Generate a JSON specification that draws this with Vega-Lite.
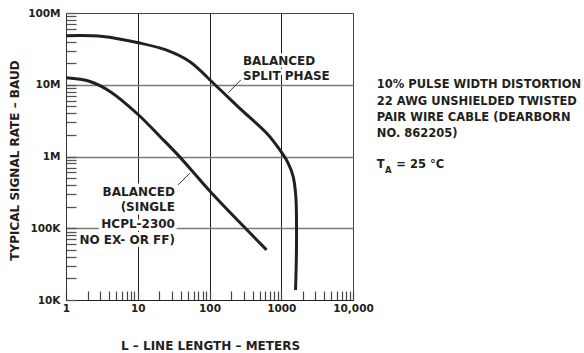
{
  "$schema": "https://vega.github.io/schema/vega-lite/v6.json",
  "width": 287,
  "height": 287,
  "autosize": {"type": "none"},
  "padding": {"left": 66, "top": 13, "right": 231, "bottom": 53},
  "background": "white",
  "config": {
    "view": {"stroke": "#444", "strokeWidth": 1},
    "font": "DejaVu Sans"
  },
  "datasets": {
    "curves": [
      {"s": "split", "i": 1, "x": 1, "y": 48200000},
      {"s": "split", "i": 2, "x": 3.27, "y": 47200000},
      {"s": "split", "i": 3, "x": 10.2, "y": 38500000},
      {"s": "split", "i": 4, "x": 25.3, "y": 30300000},
      {"s": "split", "i": 5, "x": 53.3, "y": 20900000},
      {"s": "split", "i": 6, "x": 119, "y": 10000000},
      {"s": "split", "i": 7, "x": 294, "y": 4250000},
      {"s": "split", "i": 8, "x": 624, "y": 2120000},
      {"s": "split", "i": 9, "x": 1062, "y": 1060000},
      {"s": "split", "i": 10, "x": 1247, "y": 809000},
      {"s": "split", "i": 11, "x": 1466, "y": 526000},
      {"s": "split", "i": 12, "x": 1597, "y": 277000},
      {"s": "split", "i": 13, "x": 1633, "y": 98000},
      {"s": "split", "i": 14, "x": 1622, "y": 36200},
      {"s": "split", "i": 15, "x": 1581, "y": 13800},
      {"s": "single", "i": 1, "x": 1, "y": 12500000},
      {"s": "single", "i": 2, "x": 2.16, "y": 11100000},
      {"s": "single", "i": 3, "x": 4.1, "y": 8070000},
      {"s": "single", "i": 4, "x": 10.2, "y": 3820000},
      {"s": "single", "i": 5, "x": 20.4, "y": 1900000},
      {"s": "single", "i": 6, "x": 38.7, "y": 980000},
      {"s": "single", "i": 7, "x": 107, "y": 309000},
      {"s": "single", "i": 8, "x": 624, "y": 50000}
    ],
    "leaders": [
      {"x": 182, "y": 7730000, "x2": 274, "y2": 11700000},
      {"x": 36.6, "y": 403000, "x2": 53.3, "y2": 586000}
    ],
    "splitlab": [
      {"x": 292, "y": 21500000, "t": "BALANCED"},
      {"x": 292, "y": 13100000, "t": "SPLIT PHASE"}
    ],
    "singlelab": [
      {"x": 33, "y": 325000, "t": "BALANCED"},
      {"x": 33, "y": 197000, "t": "(SINGLE"},
      {"x": 33, "y": 115000, "t": "HCPL-2300"},
      {"x": 33, "y": 68900, "t": "NO EX- OR FF)"}
    ],
    "note": [
      {"x": 21450, "y": 9900000, "t": "10% PULSE WIDTH DISTORTION"},
      {"x": 21450, "y": 5800000, "t": "22 AWG UNSHIELDED TWISTED"},
      {"x": 21450, "y": 3470000, "t": "PAIR WIRE CABLE (DEARBORN"},
      {"x": 21450, "y": 2070000, "t": "NO. 862205)"},
      {"x": 21450, "y": 766000, "t": "T"},
      {"x": 40100, "y": 766000, "t": "= 25 °C"}
    ],
    "sub": [
      {"x": 27900, "y": 653000, "t": "A"}
    ]
  },
  "encoding": {
    "x": {
      "field": "x",
      "type": "quantitative",
      "scale": {"type": "log", "domain": [1, 10000]},
      "axis": {
        "values": [1, 2, 3, 4, 5, 6, 7, 8, 9, 10, 20, 30, 40, 50, 60, 70, 80, 90, 100, 200, 300, 400, 500, 600, 700, 800, 900, 1000, 2000, 3000, 4000, 5000, 6000, 7000, 8000, 9000, 10000],
        "labelExpr": "datum.value==1?'1':datum.value==10?'10':datum.value==100?'100':datum.value==1000?'1000':datum.value==10000?'10,000':''",
        "labelOverlap": false,
        "labelFlush": false,
        "tickSize": -9,
        "tickColor": "#444",
        "tickWidth": 1.2,
        "labelPadding": 17,
        "labelFont": "DejaVu Sans",
        "labelFontWeight": "bold",
        "labelFontSize": 10.5,
        "labelColor": "#231f20",
        "labelBaseline": "middle",
        "grid": true,
        "gridColor": "#231f20",
        "gridWidth": 1,
        "gridOpacity": {"condition": {"test": "datum.value==10||datum.value==100||datum.value==1000", "value": 1}, "value": 0},
        "domainColor": "#222",
        "domainWidth": 1.2,
        "title": "L – LINE LENGTH – METERS",
        "titleFont": "DejaVu Sans",
        "titleFontWeight": "bold",
        "titleFontSize": 12,
        "titleColor": "#231f20",
        "titleBaseline": "middle",
        "titleX": 144,
        "titleY": 45
      }
    },
    "y": {
      "field": "y",
      "type": "quantitative",
      "scale": {"type": "log", "domain": [10000, 100000000]},
      "axis": {
        "values": [10000, 20000, 30000, 40000, 50000, 60000, 70000, 80000, 90000, 100000, 200000, 300000, 400000, 500000, 600000, 700000, 800000, 900000, 1000000, 2000000, 3000000, 4000000, 5000000, 6000000, 7000000, 8000000, 9000000, 10000000, 20000000, 30000000, 40000000, 50000000, 60000000, 70000000, 80000000, 90000000, 100000000],
        "labelExpr": "datum.value==100000000?'100M':datum.value==10000000?'10M':datum.value==1000000?'1M':datum.value==100000?'100K':datum.value==10000?'10K':''",
        "labelOverlap": false,
        "labelFlush": false,
        "ticks": true,
        "tickSize": -10,
        "tickColor": "#555",
        "tickWidth": 1.3,
        "labelPadding": 16,
        "labelFont": "DejaVu Sans",
        "labelFontWeight": "bold",
        "labelFontSize": 10.5,
        "labelColor": "#231f20",
        "grid": true,
        "gridColor": "#7a7a7a",
        "gridWidth": 1.3,
        "gridOpacity": {"condition": {"test": "datum.value==100000||datum.value==1000000||datum.value==10000000", "value": 1}, "value": 0},
        "domainColor": "#333",
        "domainWidth": 1,
        "title": "TYPICAL SIGNAL RATE – BAUD",
        "titleFont": "DejaVu Sans",
        "titleFontWeight": "bold",
        "titleFontSize": 12,
        "titleColor": "#231f20",
        "titleAngle": -90,
        "titleAlign": "center",
        "titleBaseline": "middle",
        "titleX": -52,
        "titleY": 147
      }
    }
  },
  "layer": [
    {
      "data": {"name": "curves"},
      "mark": {"type": "line", "color": "#231f20", "strokeWidth": 3, "interpolate": "catmull-rom", "clip": false},
      "encoding": {
        "detail": {"field": "s", "type": "nominal"},
        "order": {"field": "i", "type": "quantitative"}
      }
    },
    {
      "data": {"name": "leaders"},
      "mark": {"type": "rule", "color": "#231f20", "strokeWidth": 0.9},
      "encoding": {
        "x2": {"field": "x2"},
        "y2": {"field": "y2"}
      }
    },
    {
      "data": {"name": "splitlab"},
      "mark": {"type": "text", "align": "left", "baseline": "middle", "font": "DejaVu Sans", "fontWeight": "bold", "fontSize": 12, "fill": "white", "stroke": "white", "strokeWidth": 5, "strokeJoin": "round", "clip": false},
      "encoding": {"text": {"field": "t"}}
    },
    {
      "data": {"name": "singlelab"},
      "mark": {"type": "text", "align": "right", "baseline": "middle", "font": "DejaVu Sans", "fontWeight": "bold", "fontSize": 12, "fill": "white", "stroke": "white", "strokeWidth": 7, "strokeJoin": "round", "clip": false},
      "encoding": {"text": {"field": "t"}}
    },
    {
      "data": {"name": "splitlab"},
      "mark": {"type": "text", "align": "left", "baseline": "middle", "font": "DejaVu Sans", "fontWeight": "bold", "fontSize": 12, "color": "#231f20", "clip": false},
      "encoding": {"text": {"field": "t"}}
    },
    {
      "data": {"name": "singlelab"},
      "mark": {"type": "text", "align": "right", "baseline": "middle", "font": "DejaVu Sans", "fontWeight": "bold", "fontSize": 12, "color": "#231f20", "clip": false},
      "encoding": {"text": {"field": "t"}}
    },
    {
      "data": {"name": "note"},
      "mark": {"type": "text", "align": "left", "baseline": "middle", "font": "DejaVu Sans", "fontWeight": "bold", "fontSize": 11.5, "color": "#231f20", "clip": false},
      "encoding": {"text": {"field": "t"}}
    },
    {
      "data": {"name": "sub"},
      "mark": {"type": "text", "align": "left", "baseline": "middle", "font": "DejaVu Sans", "fontWeight": "bold", "fontSize": 8.5, "color": "#231f20", "clip": false},
      "encoding": {"text": {"field": "t"}}
    }
  ]
}
